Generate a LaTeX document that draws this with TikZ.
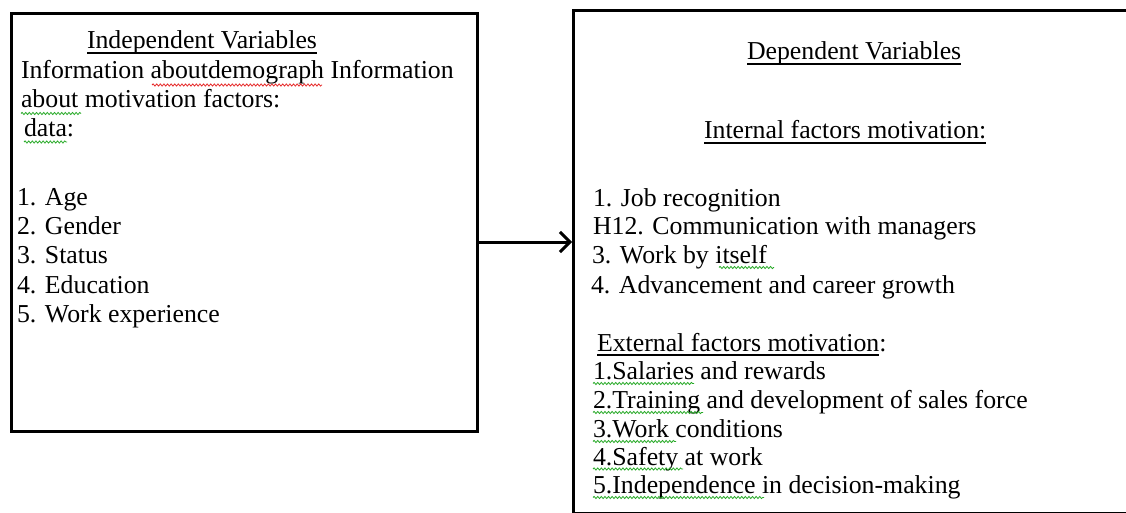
\documentclass[tikz,border=0pt]{standalone}
\usepackage{fontspec}
\setmainfont{Liberation Serif}
\usetikzlibrary{arrows.meta,decorations.pathmorphing}
\definecolor{squiggreen}{RGB}{40,170,40}
\definecolor{squigred}{RGB}{230,40,40}
\begin{document}
\begin{tikzpicture}[x=1pt,y=-1pt,
  frame/.style={draw=black,line width=3pt,anchor=north west,inner sep=0pt},
  txt/.style={anchor=base west,inner sep=0pt,outer sep=0pt,font=\fontsize{25.8}{30}\selectfont},
  uline/.style={line width=1.3pt},
  squig/.style={decorate,decoration={snake,amplitude=1.1pt,segment length=3.6pt},line width=0.8pt},
  grammar/.style={squig,draw=squiggreen},
  spelling/.style={squig,draw=squigred},
  link/.style={line width=3pt,-{Straight Barb[length=10pt,width=20pt]}}
]
\useasboundingbox (0,0) rectangle (1126,513);
\fill[white] (0,0) rectangle (1126,513);

% the two boxes
\node[frame,minimum width=466pt,minimum height=418pt] (indep) at (10,12) {};
\node[frame,minimum width=580pt,minimum height=503pt] (dep) at (572,9) {};

% connector between the boxes
\coordinate (arrowrow) at (0,242);
\draw[link] (indep.east |- arrowrow) -- (dep.west |- arrowrow);

% independent variables
\node[txt] (ihead) at (87,49) {Independent Variables};
\draw[uline] ([yshift=-4pt]ihead.base west) -- ([yshift=-4pt]ihead.base east);
\node[txt] (iline1) at (21,79) {Information aboutdemograph Information};
\node[txt] (iline2) at (21,108) {about motivation factors:};
\node[txt] (iline3) at (24,137) {data:};
\node[txt] (iage) at (17,205) {1. Age};
\node[txt] (igender) at (17,234) {2. Gender};
\node[txt] (istatus) at (17,263) {3. Status};
\node[txt] (iedu) at (17,293) {4. Education};
\node[txt] (iwork) at (17,322) {5. Work experience};

% dependent variables
\node[txt] (dhead) at (747,60) {Dependent Variables};
\draw[uline] ([yshift=-4pt]dhead.base west) -- ([yshift=-4pt]dhead.base east);
\node[txt] (inthead) at (704,139) {Internal factors motivation:};
\draw[uline] ([yshift=-4pt]inthead.base west) -- ([yshift=-4pt]inthead.base east);
\node[txt] (int1) at (593,206) {1. Job recognition};
\node[txt] (int2) at (593,234) {H12. Communication with managers};
\node[txt] (int3) at (592,263) {3. Work by itself};
\node[txt] (int4) at (591,293) {4. Advancement and career growth};
\node[txt] (exthead) at (597,351) {External factors motivation};
\node[txt] (extcolon) at (exthead.base east) {:};
\draw[uline] ([yshift=-4pt]exthead.base west) -- ([yshift=-4pt]exthead.base east);
\node[txt] (ext1) at (593,379) {1.Salaries and rewards};
\node[txt] (ext2) at (593,408) {2.Training and development of sales force};
\node[txt] (ext3) at (593,437) {3.Work conditions};
\node[txt] (ext4) at (593,465) {4.Safety at work};
\node[txt] (ext5) at (593,493) {5.Independence in decision-making};

% proofing marks under words
\draw[spelling] (152,85) -- (322,85);
\draw[grammar] (21,113.5) -- (81,113.5);
\draw[grammar] (24,142) -- (67,142);
\draw[grammar] (719,267.5) -- (774,267.5);
\draw[grammar] (593,383.5) -- (694,383.5);
\draw[grammar] (593,412.5) -- (703,412.5);
\draw[grammar] (593,441.5) -- (676,441.5);
\draw[grammar] (593,469) -- (683,469);
\draw[grammar] (593,497.5) -- (764,497.5);
\end{tikzpicture}
\end{document}
